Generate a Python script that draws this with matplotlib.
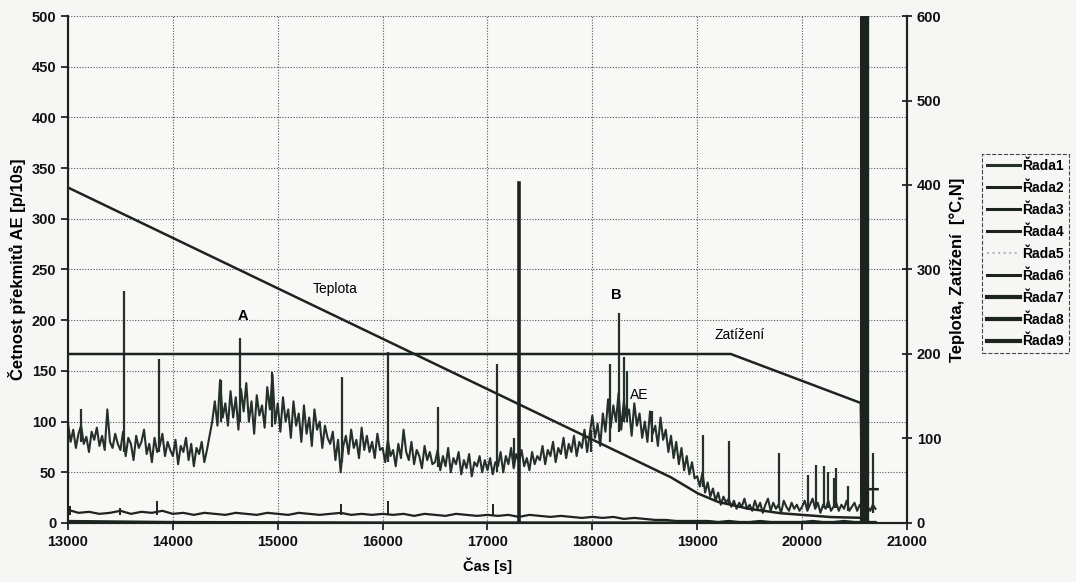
import numpy as np
import matplotlib
matplotlib.use('Agg')
import matplotlib.pyplot as plt

plt.rcParams['font.family'] = ['Liberation Sans', 'DejaVu Sans']

# AE count rate, band every 25 s from 13000 s [p/10s]
ae_start = 13000
ae_step = 25
ae_base = [98, 80, 92, 74, 88, 96, 78, 85, 70, 90, 82, 94, 76, 86, 72, 112, 80, 74, 88, 78,
           72, 90, 66, 84, 78, 62, 86, 74, 80, 92, 68, 78, 60, 84, 70, 76, 88, 66, 80, 72,
           66, 82, 58, 76, 70, 84, 62, 78, 56, 74, 68, 80, 60, 72, 86, 100, 120, 96, 141, 104,
           118, 96, 130, 104, 124, 92, 132, 110, 138, 100, 120, 88, 126, 106, 116, 94, 134, 112, 146, 98,
           118, 90, 124, 100, 112, 84, 120, 96, 108, 80, 116, 88, 104, 76, 112, 92, 100, 74, 96, 84,
           78, 90, 62, 82, 50, 76, 86, 68, 92, 74, 82, 64, 94, 72, 86, 70, 80, 64, 88, 72,
           74, 60, 82, 66, 72, 56, 78, 64, 92, 70, 62, 80, 58, 72, 66, 54, 76, 62, 70, 58,
           60, 72, 52, 66, 56, 74, 50, 64, 58, 70, 48, 62, 54, 68, 46, 60, 56, 66, 50, 62,
           52, 64, 48, 60, 56, 70, 50, 66, 58, 74, 54, 68, 60, 72, 56, 64, 52, 70, 58, 66,
           62, 76, 58, 72, 66, 80, 60, 74, 68, 84, 64, 78, 70, 86, 66, 80, 74, 92, 70, 88,
           106, 84, 98, 76, 108, 90, 122, 94, 116, 100, 128, 92, 120, 104, 112, 86, 118, 96, 108, 84,
           100, 80, 110, 88, 96, 76, 104, 82, 92, 70, 86, 64, 80, 58, 74, 52, 66, 48, 60, 44,
           46, 36, 50, 30, 40, 26, 34, 22, 30, 18, 26, 20, 24, 16, 22, 14, 20, 16, 24, 14,
           18, 12, 22, 14, 20, 10, 18, 24, 12, 20, 14, 18, 10, 22, 16, 12, 20, 14, 18, 12,
           16, 22, 12, 18, 24, 14, 20, 10, 18, 14, 22, 12, 16, 20, 12, 18, 14, 22, 12, 16,
           20, 12, 18, 14, 22, 16, 12, 18, 14]

# AE spikes: time, top, foot
spike_t = [13120, 13530, 13870, 14460, 14640, 14950, 15610, 16055, 16525,
           17086, 17250, 17990, 18170, 18250, 18300, 18330, 18570, 19054,
           19300, 19784, 20053, 20133, 20213, 20250, 20308, 20327, 20441, 20680]
spike_v = [112, 229, 162, 141, 182, 149, 144, 169, 114,
           157, 84, 92, 157, 207, 164, 150, 110, 87,
           81, 69, 47, 57, 56, 50, 44, 54, 36, 69]
spike_lo = [80, 70, 70, 100, 100, 95, 60, 60, 55,
            50, 55, 70, 80, 90, 100, 100, 80, 35,
            20, 15, 15, 15, 15, 15, 15, 15, 12, 10]

# low series every 100 s
low_start = 13000
low_step = 100
low_v = [13, 10, 11, 9, 10, 12, 9, 11, 10, 12,
         9, 10, 8, 10, 9, 8, 10, 9, 8, 10,
         9, 8, 10, 9, 8, 9, 10, 8, 9, 8,
         9, 8, 9, 7, 9, 8, 7, 9, 8, 7,
         8, 7, 8, 6, 8, 7, 6, 7, 6, 5,
         6, 5, 6, 4, 5, 4, 3, 3, 2, 2,
         2, 2, 1, 2, 1, 1, 2, 1, 1, 1,
         1, 2, 1, 1, 2, 1, 1, 1]
low_spike_t = [13020, 13500, 13850, 15600, 16050, 17050]
low_spike_v = [17, 15, 22, 19, 22, 19]

zero_t = [13000, 14000, 16000, 20700]
zero_v = [2, 1, 0.5, 0.5]

# big single line at 17300 s
line_t = [17300, 17300]
line_v = [0, 335]

# Teplota [°C] and Zatizeni [N], right axis
tep_t = [13000, 18750, 19006, 19197, 19483, 19800, 20276, 20600]
tep_v = [397, 54, 35, 25, 17, 11.5, 7, 6]
zat_t = [13000, 19320, 20560, 20570, 20720]
zat_v = [200, 200, 142, 40, 40]
bar_t = [20600, 20600]
bar_v = [0, 700]
edge_t = [20560, 20560]
edge_v = [0, 700]
gray_t = [20575, 20575]
gray_v = [0, 60]

dark = '#1d2420'

fig = plt.figure(figsize=(10.76, 5.82), dpi=100)
fig.patch.set_facecolor('#f6f6f4')
ax = fig.add_axes([0.0632, 0.1014, 0.7797, 0.8711])
ax.set_facecolor('#f8f8f6')
ax2 = ax.twinx()

ae_t = ae_start + ae_step * np.arange(len(ae_base))
low_t = low_start + low_step * np.arange(len(low_v))

l1, = ax.plot(ae_t, ae_base, color='#26302b', lw=1.5, label='Řada1')
ax.vlines(spike_t, spike_lo, spike_v, color='#26302b', lw=1.6)
l2, = ax.plot(low_t, low_v, color=dark, lw=1.6, label='Řada2')
ax.vlines(low_spike_t, 8, low_spike_v, color=dark, lw=1.4)
l3, = ax.plot(zero_t, zero_v, color=dark, lw=1.6, label='Řada3')
l4, = ax.plot(line_t, line_v, color=dark, lw=2.6, label='Řada4')
l5, = ax2.plot(gray_t, gray_v, color='#b8b8b8', lw=2, ls=':', label='Řada5')
l6, = ax2.plot(tep_t, tep_v, color=dark, lw=1.8, label='Řada6')
l7, = ax2.plot(zat_t, zat_v, color=dark, lw=1.8, label='Řada7')
l8, = ax2.plot(bar_t, bar_v, color=dark, lw=6, label='Řada8')
l9, = ax2.plot(edge_t, edge_v, color=dark, lw=1.5, label='Řada9')

ax.set_xlim(13000, 21000)
ax.set_ylim(0, 500)
ax2.set_ylim(0, 600)
ax.set_xticks(np.arange(13000, 21001, 1000))
ax.set_yticks(np.arange(0, 501, 50))
ax2.set_yticks(np.arange(0, 601, 100))
ax.grid(True, color='#555555', ls=(0, (1, 1.5)), lw=0.8)
ax.set_axisbelow(True)

for a in (ax, ax2):
    a.spines['top'].set_visible(False)
    for s in ('left', 'right', 'bottom'):
        a.spines[s].set_color(dark)
        a.spines[s].set_linewidth(1.5)
    a.tick_params(labelsize=10.5, colors='#111111', length=5, width=1.2)
ax2.tick_params(axis='y', direction='inout', length=7)
for lab in ax.get_xticklabels() + ax.get_yticklabels() + ax2.get_yticklabels():
    lab.set_fontweight('bold')

ax.set_xlabel('Čas [s]', fontsize=10.5, fontweight='bold', labelpad=6)
ax.set_ylabel('Četnost překmitů AE [p/10s]', fontsize=12, fontweight='bold', labelpad=4)
ax2.set_ylabel('Teplota, Zatížení  [°C,N]', fontsize=12, fontweight='bold', labelpad=6)

ax.text(15550, 231, 'Teplota', fontsize=10, ha='center', va='center')
ax.text(14670, 204, 'A', fontsize=10.5, fontweight='bold', ha='center', va='center')
ax.text(18230, 225, 'B', fontsize=10.5, fontweight='bold', ha='center', va='center')
ax.text(19400, 185, 'Zatížení', fontsize=10, ha='center', va='center')
ax.text(18450, 126, 'AE', fontsize=10, ha='center', va='center')

leg = fig.legend(handles=[l1, l2, l3, l4, l5, l6, l7, l8, l9], loc='upper left',
                 bbox_to_anchor=(0.9125, 0.735), prop={'size': 10, 'weight': 'bold'},
                 labelspacing=0.57, handlelength=2.4, handletextpad=0.15,
                 borderpad=0.35, borderaxespad=0,
                 fancybox=False, framealpha=1, facecolor='#f6f6f4')
leg.get_frame().set_edgecolor('#444444')
leg.get_frame().set_linestyle('--')
leg.get_frame().set_linewidth(0.8)
for h in leg.get_lines():
    h.set_linewidth(2.2)
for h in leg.get_lines()[6:]:
    h.set_linewidth(3)
leg.get_lines()[4].set_linewidth(1.5)

fig.savefig('out.png', dpi=100, facecolor=fig.get_facecolor())
